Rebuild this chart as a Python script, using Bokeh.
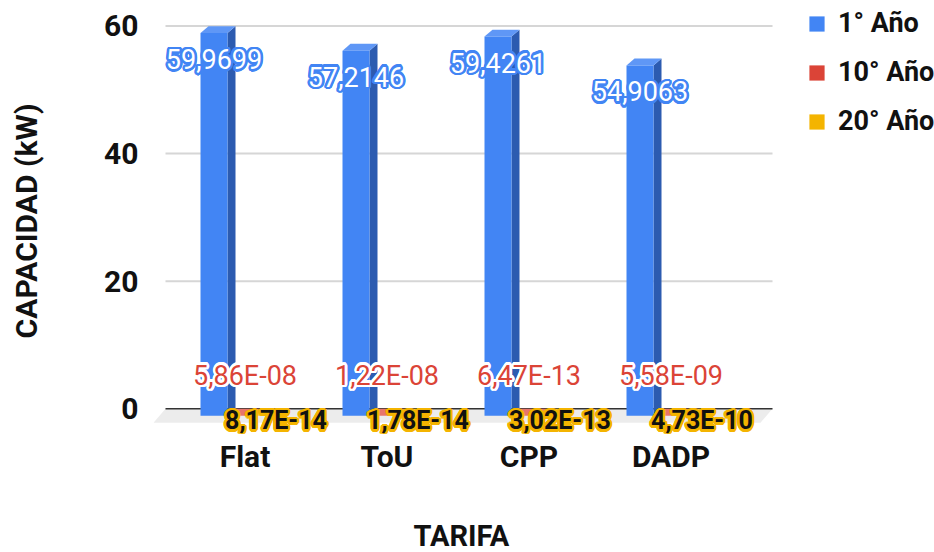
import math
from bokeh.plotting import figure
from bokeh.models import Range1d, FixedTicker, Legend, LegendItem, Title
from bokeh.core.properties import value
from bokeh.embed import file_html
from bokeh.resources import INLINE

# ---------------- data ----------------
categories = ["Flat", "ToU", "CPP", "DADP"]
series_names = ["1° Año", "10° Año", "20° Año"]
year1 = [59.9699, 57.2146, 59.4261, 54.9063]
year10 = [5.86e-08, 1.22e-08, 6.47e-13, 5.58e-09]
year20 = [8.17e-14, 1.78e-14, 3.02e-13, 4.73e-10]
y_ticks = [0, 20, 40, 60]
x_title = "TARIFA"
y_title = "CAPACIDAD (kW)"

labels1 = [f"{v:.4f}".replace(".", ",") for v in year1]
labels10 = [f"{v:.2E}".replace(".", ",") for v in year10]
labels20 = [f"{v:.2E}".replace(".", ",") for v in year20]

# ---------------- style / layout ----------------
FONT = "Roboto"
W, H = 934, 552
FL, FR, FT, FB = 153, 934, 8, 438       # frame edges (canvas px)
PX_Y = 6.455                            # px per y unit
ZERO_Y = 413                            # canvas y of back-plane zero
PX_X = 142                              # px per category
TICK0_X = 244.5                         # canvas x of first category
DX, DY = 8, 7                           # 3D depth (px)
BAR_W = 27
SERIES_OFF = [-31, -4, 23]              # bar centre offsets (px)
FRONT = ["#4285f4", "#db4437", "#f4b400"]
SIDE = ["#2c5bb0", "#a3332a", "#b88a00"]
TOP = ["#5f97f6", "#e8756b", "#f6c640"]
GRID_X0, GRID_X1 = 165, 772             # back-plane grid extents (canvas px)
TXT = "#111111"

y_start = -(FB - ZERO_Y) / PX_Y
y_end = (ZERO_Y - FT) / PX_Y
x_start = -(TICK0_X - FL) / PX_X
x_end = (FR - TICK0_X) / PX_X


def dxu(px):
    return px / PX_X


def dyu(px):
    return px / PX_Y


p = figure(width=W, height=H, output_backend="svg", toolbar_location=None,
           x_range=Range1d(x_start, x_end), y_range=Range1d(y_start, y_end),
           min_border_left=FL, min_border_right=W - FR,
           min_border_top=FT, min_border_bottom=H - FB)
p.outline_line_color = None
p.grid.visible = False
p.background_fill_color = "white"
p.border_fill_color = "white"

gx0 = (GRID_X0 - TICK0_X) / PX_X
gx1 = (GRID_X1 - TICK0_X) / PX_X

# floor
fd_x, fd_y = dxu(12), dyu(14)
p.patch([gx0, gx1, gx1 - fd_x, gx0 - fd_x], [0, 0, -fd_y, -fd_y],
        fill_color="#ececec", line_color=None)

# gridlines on back plane
gy = [t for t in y_ticks if t != 0]
p.segment(x0=[gx0] * len(gy), x1=[gx1] * len(gy), y0=gy, y1=gy,
          line_color="#d6d6d6", line_width=2)
p.segment(x0=[gx0], x1=[gx1], y0=[0], y1=[0], line_color="#333333", line_width=1.5)

# bars
all_vals = [year1, year10, year20]
front_renderers = []
dx, dy = dxu(DX), dyu(DY)
for s, vals in enumerate(all_vals):
    L = [i + dxu(SERIES_OFF[s] - BAR_W / 2) for i in range(len(categories))]
    R = [i + dxu(SERIES_OFF[s] + BAR_W / 2) for i in range(len(categories))]
    side_xs, side_ys, top_xs, top_ys = [], [], [], []
    for l, r, v in zip(L, R, vals):
        side_xs.append([r, r + dx, r + dx, r])
        side_ys.append([-dy, 0, v, v - dy])
        top_xs.append([l, l + dx, r + dx, r])
        top_ys.append([v - dy, v, v, v - dy])
    p.patches(side_xs, side_ys, fill_color=SIDE[s], line_color=None)
    p.patches(top_xs, top_ys, fill_color=TOP[s], line_color=None)
    fr = p.quad(left=L, right=R, bottom=[-dy] * len(vals), top=[v - dy for v in vals],
                fill_color=FRONT[s], line_color=None)
    front_renderers.append(fr)


def outlined_text(xs, ys, texts, xoff, yoff, color, outline, radius, size, style):
    n = 16
    for k in range(n):
        a = 2 * math.pi * k / n
        p.text(x=xs, y=ys, text=texts, x_offset=xoff + radius * math.cos(a),
               y_offset=yoff + radius * math.sin(a), text_color=outline,
               text_font=value(FONT), text_font_size=f"{size}px", text_font_style=style,
               text_align="center", text_baseline="middle")
    p.text(x=xs, y=ys, text=texts, x_offset=xoff, y_offset=yoff, text_color=color,
           text_font=value(FONT), text_font_size=f"{size}px", text_font_style=style,
           text_align="center", text_baseline="middle")


idx = list(range(len(categories)))
outlined_text([i + dxu(SERIES_OFF[0]) for i in idx], [v - dy for v in year1], labels1,
              0, 26, "white", "#4285f4", 2.5, 27, "normal")
outlined_text(idx, [0] * 4, labels10, 0, -33, "#db4437", "white", 2.5, 27, "normal")
outlined_text([i + dxu(31) for i in idx], [0] * 4, labels20, 0, 12, TXT, "#f4b400", 2.5, 25, "bold")

# axes
for ax in (p.xaxis, p.yaxis):
    ax.axis_line_color = None
    ax.major_tick_line_color = None
    ax.minor_tick_line_color = None
    ax.major_tick_out = 0
    ax.major_tick_in = 0
    ax.minor_tick_out = 0
    ax.major_label_text_font = FONT
    ax.major_label_text_font_size = "30px"
    ax.major_label_text_font_style = "bold"
    ax.major_label_text_color = TXT
    ax.axis_label_text_font = FONT
    ax.axis_label_text_font_style = "bold"
    ax.axis_label_text_color = TXT

p.yaxis.ticker = FixedTicker(ticks=y_ticks)
p.yaxis.major_label_standoff = 15
p.yaxis.axis_label = y_title
p.yaxis.axis_label_standoff = 57
p.yaxis.axis_label_text_font_size = "30px"

p.xaxis.ticker = FixedTicker(ticks=idx)
p.xaxis.major_label_overrides = {i: c for i, c in enumerate(categories)}
p.xaxis.major_label_standoff = 5
# blank spacer label keeps the title low in the bottom border
p.xaxis.axis_label = "\u00a0"
p.xaxis.axis_label_standoff = 13
p.xaxis.axis_label_text_font_size = "20px"

p.add_layout(Title(text=x_title, align="left", offset=413 - FL, standoff=0,
                   text_font=FONT, text_font_size="29px",
                   text_font_style="bold", text_color=TXT), "below")

# legend (inside the frame's right part, beyond the plotting floor)
LEG_SP = 17
LEG_H = 3 * 32 + 2 * LEG_SP
legend = Legend(items=[LegendItem(label=n, renderers=[r]) for n, r in zip(series_names, front_renderers)],
                location=(807 - FL, FB - 12 - LEG_H), padding=0, margin=0,
                border_line_color=None, background_fill_alpha=0,
                glyph_width=19, glyph_height=19, label_standoff=12, spacing=LEG_SP,
                label_text_font=FONT, label_text_font_size="27px",
                label_text_font_style="bold", label_text_color=TXT)
p.add_layout(legend, "center")

open("out.html", "w").write(file_html(p, INLINE))
